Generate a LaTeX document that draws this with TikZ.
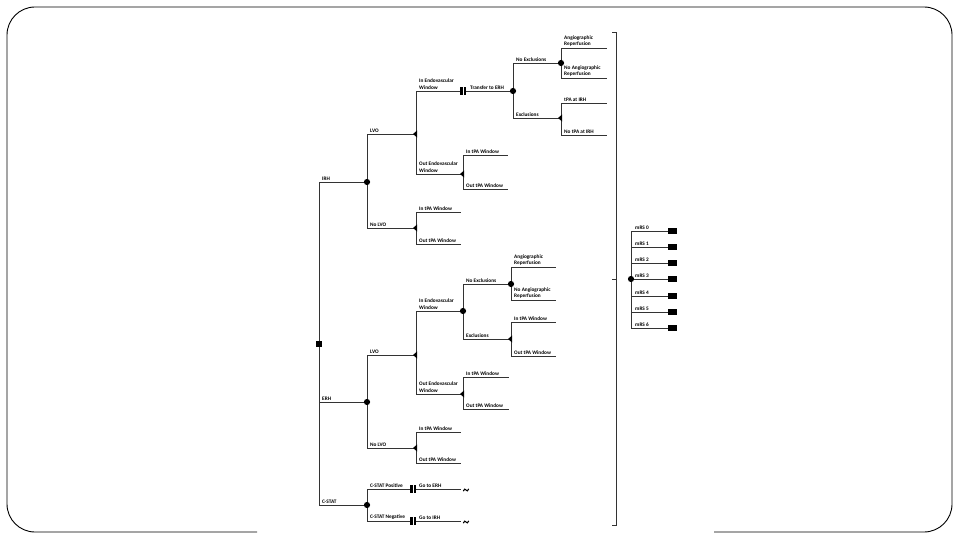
\documentclass[tikz,border=0pt]{standalone}
\usepackage{fontspec}
\setmainfont{Carlito}
\begin{document}
\begin{tikzpicture}[x=1pt,y=-1pt,
  ln/.style={draw=black!80,line width=0.8pt},
  lbl/.style={anchor=south west,inner sep=0pt,align=left,font=\bfseries\fontsize{5.3}{6.3}\selectfont},
  chance/.pic={\fill (0,0) circle (3.1);},
  tri/.pic={\fill (1.2,-3.6) -- (1.2,3.6) -- (-3,0) -- cycle;},
  dsq/.pic={\fill (-2.6,-3.6) rectangle (2.6,3.6); \draw[white,line width=0.5pt] (0,-3.6) -- (0,3.6);},
  rootsq/.pic={\fill (-3.2,-3.4) rectangle (3.2,3.4);},
  term/.pic={\fill (0,-2.6) rectangle (9,2.6);},
  squig/.pic={\draw[line width=1.1pt,line cap=round] (-2.6,0.9) .. controls (-1.8,-1.4) and (-0.8,-1.2) .. (0,0) .. controls (0.8,1.2) and (1.8,1.4) .. (2.6,-0.9);}
]
\useasboundingbox (0,0) rectangle (960,540);
% frame
\draw[line width=0.9pt,rounded corners=28] (257,532) -- (7,532) -- (7,7) -- (952,7) -- (952,532) -- (714,532);

% ---------- coordinates ----------
\coordinate (root) at (319,344);
\coordinate (irhC) at (367,182);
\coordinate (erhC) at (367,402);
\coordinate (csC) at (367,505);
% IRH
\coordinate (t1) at (416,134);
\coordinate (t2) at (416,228);
\coordinate (s1) at (463,91);
\coordinate (c1) at (513,91);
\coordinate (t3) at (463,174);
\coordinate (c2) at (561,63);
\coordinate (t4) at (561,118);
\coordinate (e1) at (607,48);
\coordinate (e2) at (607,78);
\coordinate (e3) at (607,103);
\coordinate (e4) at (607,135);
\coordinate (e5) at (508,155);
\coordinate (e6) at (508,189);
\coordinate (e7) at (461,212);
\coordinate (e8) at (461,244);
% ERH
\coordinate (t5) at (416,355);
\coordinate (t6) at (416,448);
\coordinate (c3) at (463,311);
\coordinate (t7) at (463,394);
\coordinate (c4) at (511,284);
\coordinate (t8) at (511,339);
\coordinate (f1) at (556,267);
\coordinate (f2) at (556,300);
\coordinate (f3) at (556,322);
\coordinate (f4) at (556,356);
\coordinate (f5) at (509,377);
\coordinate (f6) at (509,409);
\coordinate (f7) at (461,432);
\coordinate (f8) at (461,463);
% C-STAT
\coordinate (s2) at (413,489);
\coordinate (s3) at (413,521);
\coordinate (g1) at (461,489);
\coordinate (g2) at (461,521);
\coordinate (w1) at (466,490);
\coordinate (w2) at (466,522);
% bracket & mRS
\coordinate (bt) at (616,32);
\coordinate (bb) at (616,525);
\coordinate (bm) at (616,279);
\coordinate (m) at (631,279);
\foreach \i/\y in {0/231,1/247,2/263,3/279,4/296,5/312,6/328}{
  \coordinate (r\i) at (668,\y);
}

% ---------- connectors ----------
\draw[ln] (root) |- (irhC);
\draw[ln] (root) |- (erhC);
\draw[ln] (root) |- (csC);
% IRH
\draw[ln] (irhC) |- (t1);
\draw[ln] (irhC) |- (t2);
\draw[ln] (t1) |- (s1);
\draw[ln] (s1) -- (c1);
\draw[ln] (t1) |- (t3);
\draw[ln] (c1) |- (c2);
\draw[ln] (c1) |- (t4);
\draw[ln] (c2) |- (e1);
\draw[ln] (c2) |- (e2);
\draw[ln] (t4) |- (e3);
\draw[ln] (t4) |- (e4);
\draw[ln] (t3) |- (e5);
\draw[ln] (t3) |- (e6);
\draw[ln] (t2) |- (e7);
\draw[ln] (t2) |- (e8);
% ERH
\draw[ln] (erhC) |- (t5);
\draw[ln] (erhC) |- (t6);
\draw[ln] (t5) |- (c3);
\draw[ln] (t5) |- (t7);
\draw[ln] (c3) |- (c4);
\draw[ln] (c3) |- (t8);
\draw[ln] (c4) |- (f1);
\draw[ln] (c4) |- (f2);
\draw[ln] (t8) |- (f3);
\draw[ln] (t8) |- (f4);
\draw[ln] (t7) |- (f5);
\draw[ln] (t7) |- (f6);
\draw[ln] (t6) |- (f7);
\draw[ln] (t6) |- (f8);
% C-STAT
\draw[ln] (csC) |- (s2);
\draw[ln] (csC) |- (s3);
\draw[ln] (s2) -- (g1);
\draw[ln] (s3) -- (g2);
% bracket
\draw[ln] ([xshift=-4]bt) -- (bt) -- (bb) -- ([xshift=-4]bb);
\draw[ln] (bm) -- ([xshift=-4]bm);
% mRS
\foreach \i in {0,...,6}{ \draw[ln] (m) |- (r\i); }

% ---------- markers ----------
\path (root) pic{rootsq};
\foreach \p in {irhC,erhC,csC,c1,c2,c3,c4,m} { \path (\p) pic{chance}; }
\foreach \p in {t1,t2,t3,t4,t5,t6,t7,t8} { \path (\p) pic{tri}; }
\foreach \p in {s1,s2,s3} { \path (\p) pic{dsq}; }
\foreach \i in {0,...,6} { \path (r\i) pic{term}; }
\path (w1) pic{squig};
\path (w2) pic{squig};

% ---------- labels ----------
\node[lbl] (l01) at (322,180.5) {IRH};
\node[lbl] (l02) at (370,132.5) {LVO};
\node[lbl] (l03) at (370,226.5) {No LVO};
\node[lbl] (l04) at (419,89.5) {In Endovascular\\Window};
\node[lbl] (l05) at (470,89.5) {Transfer to ERH};
\node[lbl] (l06) at (516,61.5) {No Exclusions};
\node[lbl] (l07) at (516,116.5) {Exclusions};
\node[lbl] (l08) at (564,46.5) {Angiographic\\Reperfusion};
\node[lbl] (l09) at (564,76.5) {No Angiographic\\Reperfusion};
\node[lbl] (l10) at (564,101.5) {tPA at IRH};
\node[lbl] (l11) at (564,133.5) {No tPA at IRH};
\node[lbl] (l12) at (419,172.5) {Out Endovascular\\Window};
\node[lbl] (l13) at (466,153.5) {In tPA Window};
\node[lbl] (l14) at (466,187.5) {Out tPA Window};
\node[lbl] (l15) at (419,210.5) {In tPA Window};
\node[lbl] (l16) at (419,242.5) {Out tPA Window};
\node[lbl] (l17) at (322,400.5) {ERH};
\node[lbl] (l18) at (370,353.5) {LVO};
\node[lbl] (l19) at (370,446.5) {No LVO};
\node[lbl] (l20) at (419,309.5) {In Endovascular\\Window};
\node[lbl] (l21) at (466,282.5) {No Exclusions};
\node[lbl] (l22) at (466,337.5) {Exclusions};
\node[lbl] (l23) at (514,265.5) {Angiographic\\Reperfusion};
\node[lbl] (l24) at (514,298.5) {No Angiographic\\Reperfusion};
\node[lbl] (l25) at (514,320.5) {In tPA Window};
\node[lbl] (l26) at (514,354.5) {Out tPA Window};
\node[lbl] (l27) at (419,392.5) {Out Endovascular\\Window};
\node[lbl] (l28) at (466,375.5) {In tPA Window};
\node[lbl] (l29) at (466,407.5) {Out tPA Window};
\node[lbl] (l30) at (419,430.5) {In tPA Window};
\node[lbl] (l31) at (419,461.5) {Out tPA Window};
\node[lbl] (l32) at (322,503.5) {C-STAT};
\node[lbl] (l33) at (370,487.5) {C-STAT Positive};
\node[lbl] (l34) at (419,487.5) {Go to ERH};
\node[lbl] (l35) at (370,519.5) {C-STAT Negative};
\node[lbl] (l36) at (419,519.5) {Go to IRH};
\foreach \i/\y in {0/231,1/247,2/263,3/279,4/296,5/312,6/328}{
  \node[lbl] (mr\i) at (635,\y-1.5) {mRS \i};
}
\end{tikzpicture}
\end{document}
